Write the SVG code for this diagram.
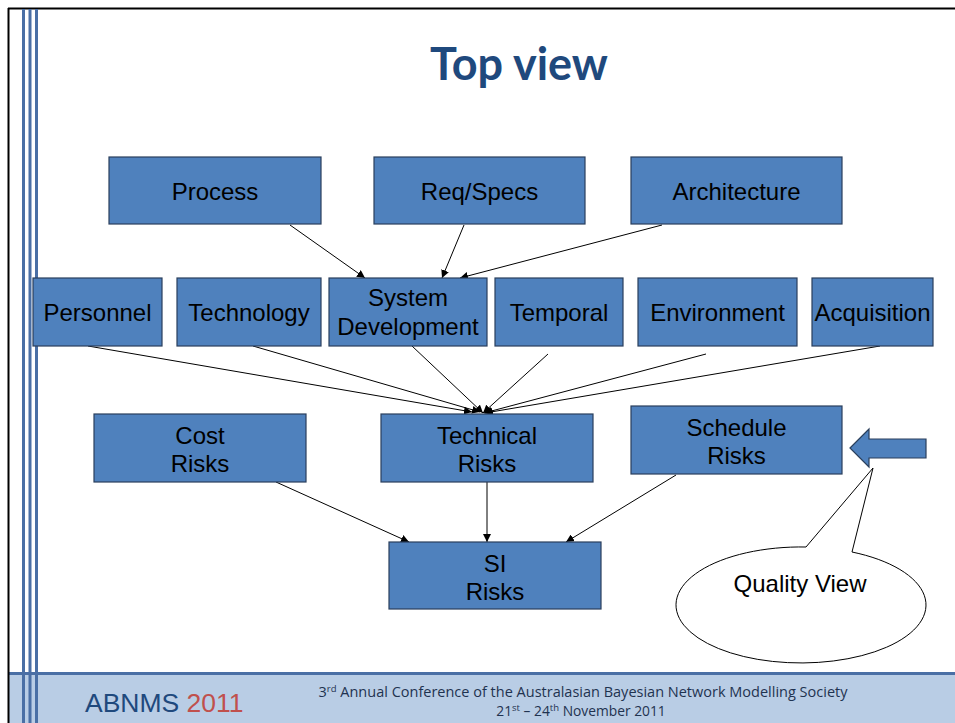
<svg xmlns="http://www.w3.org/2000/svg" width="955" height="723" viewBox="0 0 955 723">
<defs>
<style>
.box rect{fill:#4f81bd;stroke:#2a3f5c;stroke-width:1.2}
.box text{font-family:"Liberation Sans",Arial,sans-serif;font-size:24px;fill:#000;text-anchor:middle}
.conn line{stroke:#000;stroke-width:1;marker-end:url(#ah)}
.stripe{fill:#4a6fa5}
</style>
<marker id="ah" viewBox="0 0 10 10" refX="10" refY="5" markerWidth="8" markerHeight="8" markerUnits="userSpaceOnUse" orient="auto">
<path d="M0,0 L10,5 L0,10 z" fill="#000"/>
</marker>
</defs>
<rect x="0" y="0" width="955" height="723" fill="#fff"/>
<!-- footer band -->
<rect x="8" y="673" width="947" height="50" fill="#b9cde5"/>
<rect x="8" y="672" width="947" height="3" fill="#4a6fa5"/>
<!-- frame -->
<line x1="8.5" y1="8" x2="8.5" y2="723" stroke="#000" stroke-width="2"/>
<line x1="8" y1="8.5" x2="955" y2="8.5" stroke="#000" stroke-width="2"/>
<rect class="stripe" x="22" y="9" width="3" height="714"/>
<rect class="stripe" x="28.5" y="9" width="3" height="714"/>
<rect class="stripe" x="35" y="9" width="3" height="714"/>

<text x="519" y="80" font-family="Lato,'Open Sans',sans-serif" font-weight="bold" font-size="45" fill="#1f497d" text-anchor="middle">Top view</text>

<g id="connectors" class="conn">
<line x1="290" y1="225" x2="365" y2="278"/>
<line x1="464" y1="225" x2="442" y2="278"/>
<line x1="662" y1="225" x2="460" y2="278"/>
<line x1="88" y1="346" x2="472" y2="412"/>
<line x1="253" y1="346" x2="480" y2="412"/>
<line x1="412" y1="346" x2="483" y2="413"/>
<line x1="548" y1="354" x2="483" y2="413"/>
<line x1="706" y1="354" x2="484" y2="413"/>
<line x1="880" y1="346" x2="485" y2="413"/>
<line x1="276" y1="482" x2="409" y2="542"/>
<line x1="487" y1="482" x2="487" y2="542"/>
<line x1="676" y1="475" x2="566" y2="542"/>
</g>

<g id="process" class="box"><rect x="109" y="157" width="212" height="67"/><text x="215" y="200">Process</text></g>
<g id="reqspecs" class="box"><rect x="374" y="157" width="211" height="67"/><text x="479.5" y="200">Req/Specs</text></g>
<g id="architecture" class="box"><rect x="631" y="157" width="211" height="67"/><text x="736.5" y="200">Architecture</text></g>

<g id="personnel" class="box"><rect x="33" y="278" width="129" height="68"/><text x="97.5" y="321">Personnel</text></g>
<g id="technology" class="box"><rect x="177" y="278" width="144" height="68"/><text x="249" y="321">Technology</text></g>
<g id="sysdev" class="box"><rect x="329" y="278" width="158" height="68"/><text x="408" y="306">System</text><text x="408" y="335">Development</text></g>
<g id="temporal" class="box"><rect x="495" y="278" width="128" height="68"/><text x="559" y="321">Temporal</text></g>
<g id="environment" class="box"><rect x="638" y="278" width="159" height="68"/><text x="717.5" y="321">Environment</text></g>
<g id="acquisition" class="box"><rect x="812" y="278" width="121" height="68"/><text x="872.5" y="321">Acquisition</text></g>

<g id="cost" class="box"><rect x="94" y="414" width="212" height="68"/><text x="200" y="444">Cost</text><text x="200" y="472">Risks</text></g>
<g id="technical" class="box"><rect x="381" y="414" width="212" height="68"/><text x="487" y="444">Technical</text><text x="487" y="472">Risks</text></g>
<g id="schedule" class="box"><rect x="631" y="406" width="211" height="68"/><text x="736.5" y="436">Schedule</text><text x="736.5" y="464">Risks</text></g>
<g id="si" class="box"><rect x="389" y="542" width="212" height="67"/><text x="495" y="572">SI</text><text x="495" y="600">Risks</text></g>

<g id="block-arrow">
<path d="M850,448 L869,429 L869,439 L926,439 L926,458 L869,458 L869,467 Z" fill="#4f81bd" stroke="#2a3f5c" stroke-width="1.2"/>
</g>

<g id="quality-view">
<path d="M806,547 L873,468 L852,552 A125,58 0 1 1 806,547 Z" fill="#fff" stroke="#000" stroke-width="1"/>
<text x="800" y="592" font-family="'Liberation Sans',Arial,sans-serif" font-size="24" text-anchor="middle">Quality View</text>
</g>

<g id="footer">
<text x="85" y="712" font-family="'Liberation Sans',Arial,sans-serif" font-size="26.5"><tspan fill="#1f497d">ABNMS </tspan><tspan fill="#c0504d">2011</tspan></text>
<text x="583" y="697" font-family="'Open Sans','Liberation Sans',sans-serif" font-size="14.5" fill="#1f3350" text-anchor="middle">3<tspan font-size="9.5" dy="-5">rd</tspan><tspan dy="5"> Annual Conference of the Australasian Bayesian Network Modelling Society</tspan></text>
<text x="581" y="716" font-family="'Open Sans','Liberation Sans',sans-serif" font-size="13.8" fill="#1f3350" text-anchor="middle">21<tspan font-size="9.5" dy="-5">st</tspan><tspan dy="5"> – 24</tspan><tspan font-size="9.5" dy="-5">th</tspan><tspan dy="5"> November 2011</tspan></text>
</g>
</svg>
